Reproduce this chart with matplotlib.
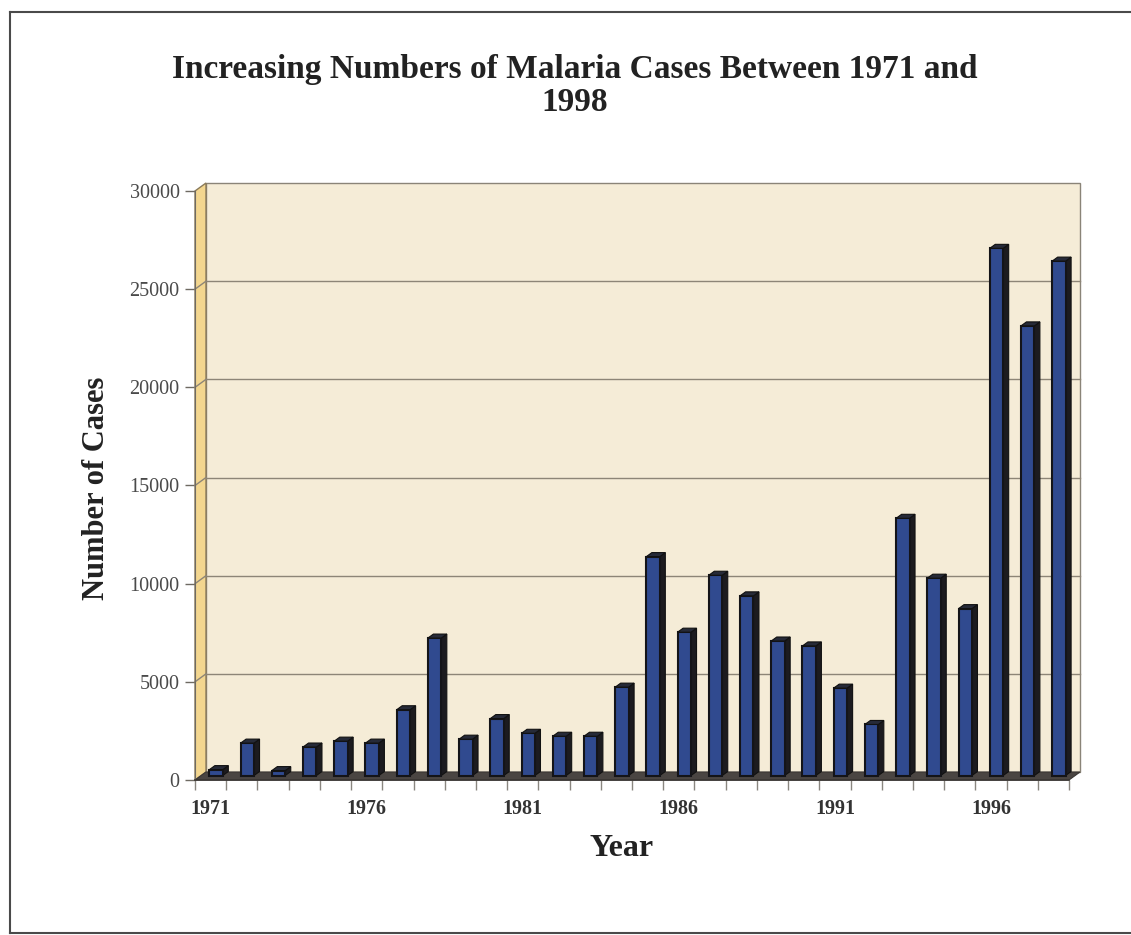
import matplotlib
matplotlib.use("Agg")
import matplotlib.pyplot as plt
from matplotlib.patches import Polygon, Rectangle
from matplotlib.lines import Line2D

# ---- data -------------------------------------------------------------
years = list(range(1971, 1999))
cases = [300, 1650, 250, 1450, 1750, 1650, 3350, 7000, 1850, 2900,
         2150, 2000, 2000, 4500, 11150, 7300, 10200, 9150, 6850, 6600,
         4450, 2600, 13100, 10050, 8500, 26850, 22900, 26200]
y_ticks = [0, 5000, 10000, 15000, 20000, 25000, 30000]
labelled_years = [1971, 1976, 1981, 1986, 1991, 1996]

title_text = "Increasing Numbers of Malaria Cases Between 1971 and\n1998"
x_title = "Year"
y_title = "Number of Cases"

# ---- figure / axes layout (pixels) ------------------------------------
W, H, DPI = 1131, 935, 100
fig = plt.figure(figsize=(W / DPI, H / DPI), dpi=DPI)
fig.patch.set_facecolor("white")

ax_l, ax_r, ax_t, ax_b = 195, 1069, 191, 780
ax = fig.add_axes([ax_l / W, 1 - ax_b / H, (ax_r - ax_l) / W, (ax_b - ax_t) / H])
n = len(years)
ymax = y_ticks[-1]
ax.set_xlim(0, n)
ax.set_ylim(0, ymax)
ax.patch.set_visible(False)

# pixel -> data conversion for the pseudo-3D depth offsets
px_x = n / (ax_r - ax_l)
px_y = ymax / (ax_b - ax_t)
wall_dx, wall_dy = 11 * px_x, 8 * px_y
front_dx, front_dy = 5.5 * px_x, 4.5 * px_y
back_dx, back_dy = 11.0 * px_x, 8.5 * px_y

WALL = "#f5ecd7"
SIDE_WALL = "#f3d68f"
FLOOR = "#4a4542"
GRID = "#8d8577"
BAR_FRONT = "#304a8f"
BAR_SIDE = "#1c1b1f"
BAR_TOP = "#262a38"

# back wall
ax.add_patch(Rectangle((wall_dx, wall_dy), n, ymax, facecolor=WALL,
                       edgecolor="#8a8478", lw=1.0, clip_on=False, zorder=0))
# left side wall
ax.add_patch(Polygon([(0, 0), (0, ymax), (wall_dx, ymax + wall_dy), (wall_dx, wall_dy)],
                     closed=True, facecolor=SIDE_WALL, edgecolor="#8a7a5a", lw=1.0,
                     clip_on=False, zorder=1))
# gridlines on back wall and side wall
for v in y_ticks[1:-1]:
    ax.add_line(Line2D([wall_dx, n + wall_dx], [v + wall_dy, v + wall_dy],
                       color=GRID, lw=1.0, clip_on=False, zorder=1))
    ax.add_line(Line2D([0, wall_dx], [v, v + wall_dy],
                       color=GRID, lw=1.0, clip_on=False, zorder=2))
# floor
ax.add_patch(Polygon([(0, 0), (n, 0), (n + wall_dx, wall_dy), (wall_dx, wall_dy)],
                     closed=True, facecolor=FLOOR, edgecolor="#3a3633", lw=0.8,
                     clip_on=False, zorder=2))

# bars: front faces through ax.bar, side and top faces as parallelograms
width = 0.43
centers = [i + 0.5 for i in range(n)]
ax.bar([c + front_dx for c in centers], cases, width=width, bottom=front_dy,
       color=BAR_FRONT, edgecolor="#141418", lw=1.5, clip_on=False, zorder=4)
for c, v in zip(centers, cases):
    x0, x1 = c - width / 2, c + width / 2
    side = [(x1 + front_dx, front_dy), (x1 + front_dx, v + front_dy),
            (x1 + back_dx, v + back_dy), (x1 + back_dx, back_dy)]
    top = [(x0 + front_dx, v + front_dy), (x1 + front_dx, v + front_dy),
           (x1 + back_dx, v + back_dy), (x0 + back_dx, v + back_dy)]
    ax.add_patch(Polygon(side, closed=True, facecolor=BAR_SIDE, edgecolor="#111111",
                         lw=0.8, clip_on=False, zorder=3))
    ax.add_patch(Polygon(top, closed=True, facecolor=BAR_TOP, edgecolor="#111111",
                         lw=0.8, clip_on=False, zorder=5))

# axes spines and ticks
for s in ("top", "right"):
    ax.spines[s].set_visible(False)
ax.spines["left"].set_color("#6e6a62")
ax.spines["left"].set_zorder(6)
ax.spines["bottom"].set_color("#3a3633")
ax.spines["bottom"].set_linewidth(1.2)
ax.spines["bottom"].set_zorder(6)

serif = ["Liberation Serif", "DejaVu Serif"]
ax.set_yticks(y_ticks)
ax.set_yticklabels([str(v) for v in y_ticks], family=serif, fontsize=14.5, color="#4a4a4a")
ax.tick_params(axis="y", direction="out", length=7, width=1, color="#6e6a62", pad=4)

ax.set_xticks(range(n + 1))
ax.set_xticklabels([])
ax.tick_params(axis="x", which="major", direction="out", length=7, width=1, color="#8a8680")
ax.set_xticks([years.index(y) + 0.5 for y in labelled_years], minor=True)
ax.set_xticklabels([str(y) for y in labelled_years], minor=True, family=serif,
                   fontsize=14.5, fontweight="bold", color="#333333")
ax.tick_params(axis="x", which="minor", length=0, pad=14)

# titles
fig.text(575 / W, 1 - 86 / H, title_text, ha="center", va="center", family=serif,
         fontsize=24, fontweight="bold", color="#222222", linespacing=1.12)
fig.text(622 / W, 1 - 848 / H, x_title, ha="center", va="center", family=serif,
         fontsize=23, fontweight="bold", color="#222222")
fig.text(97 / W, 1 - 488 / H, y_title, ha="center", va="center", rotation=90,
         family=serif, fontsize=22, fontweight="bold", color="#222222")

# outer frame
for xs, ys in (([10, W], [12, 12]), ([10, 10], [12, 933]), ([10, W], [933, 933])):
    fig.add_artist(Line2D([x / W for x in xs], [1 - y / H for y in ys],
                          transform=fig.transFigure, color="#4a4a4a", lw=1.5))

fig.savefig("out.png", dpi=DPI, facecolor=fig.get_facecolor())
